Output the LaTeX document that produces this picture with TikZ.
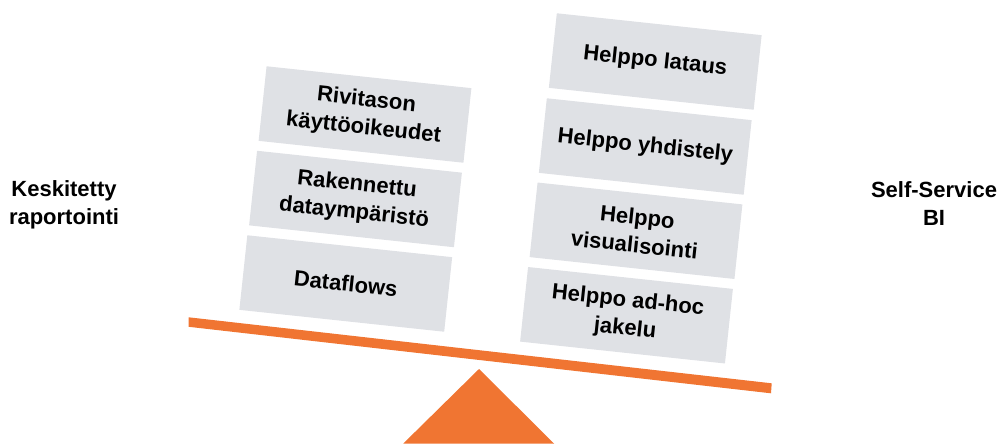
\documentclass[tikz,border=0pt]{standalone}
\usepackage{fontspec}
\setmainfont{Liberation Sans}
\definecolor{beam}{HTML}{F07532}
\definecolor{card}{HTML}{DFE1E5}
\begin{document}
\begin{tikzpicture}[x=1pt,y=-1pt,
  card/.style={fill=card, rotate=-6.1, minimum width=206pt, minimum height=75pt,
    inner sep=0pt, align=center, font=\fontsize{22}{28}\selectfont\bfseries},
  side/.style={align=center, font=\fontsize{22}{28}\selectfont\bfseries}]
\useasboundingbox (0,0) rectangle (1003,447);

% fulcrum and balance beam
\fill[beam] (479,369) -- (554,443.5) -- (403.3,443.5) -- cycle;
\fill[beam] (188.7,317.3) -- (771.7,383.3) -- (771,393.3) -- (188.7,326.8) -- cycle;

% left stack
\node[card] (rls) at (365,114.5) {Rivitason\\käyttöoikeudet};
\node[card] (env) at (355.5,199) {Rakennettu\\dataympäristö};
\node[card] (dfl) at (345.75,283.5) {Dataflows};

% right stack
\node[card] (load) at (655.25,61.5) {Helppo lataus};
\node[card] (join) at (645.25,146.5) {Helppo yhdistely};
\node[card] (vis)  at (636,230.75) {Helppo\\visualisointi};
\node[card] (share) at (626.5,315.25) {Helppo ad-hoc\\jakelu};

% side labels
\node[side] (central) at (64,205) {Keskitetty\\raportointi};
\node[side] (ssbi) at (934,204) {Self-Service\\BI};
\end{tikzpicture}
\end{document}
